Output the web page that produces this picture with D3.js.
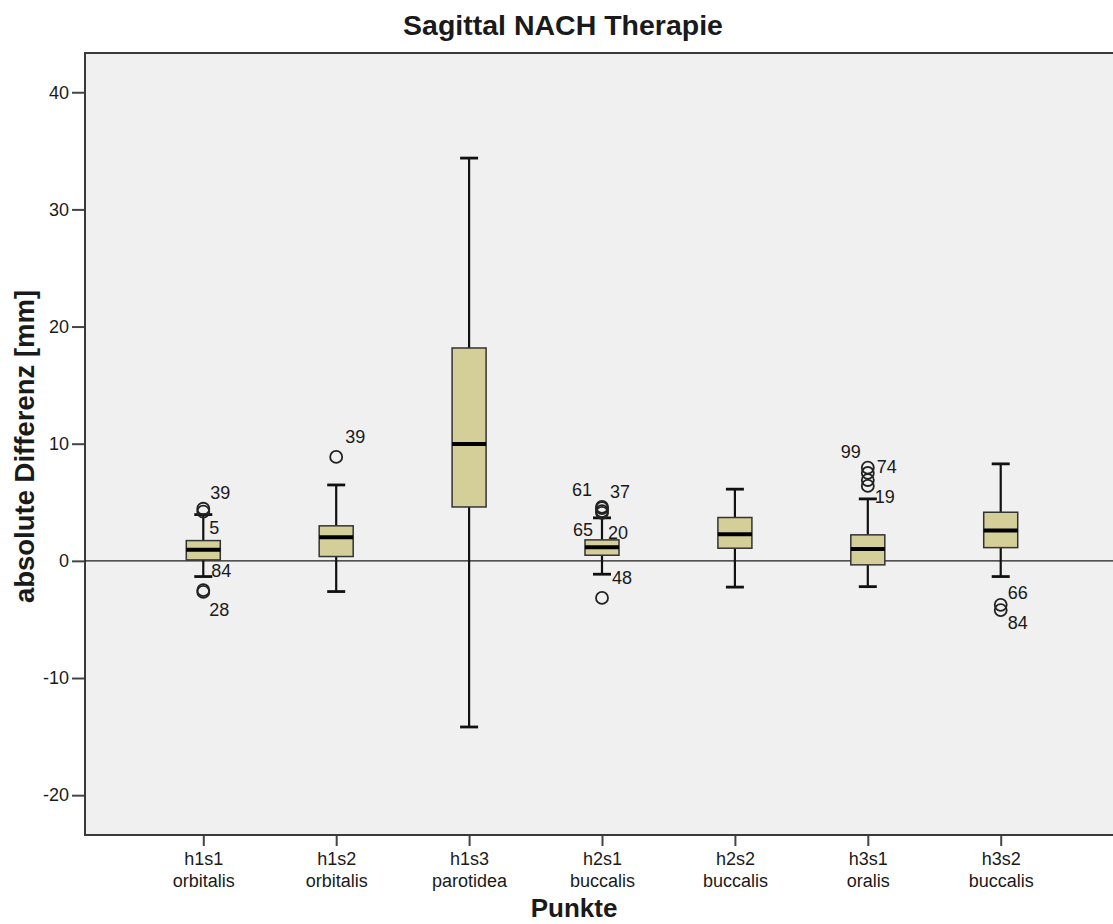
<!DOCTYPE html>
<html>
<head>
<meta charset="utf-8">
<script src="https://cdn.jsdelivr.net/npm/d3@7"></script>
<style>
  html, body { margin: 0; padding: 0; background: #ffffff; }
  svg { display: block; }
  text { font-family: "Liberation Sans", Arial, sans-serif; fill: #1a1a1a; }
</style>
</head>
<body>
<svg id="chart" width="1113" height="924"></svg>
<script>
// Measurement points (two-line tick labels)
const categories = ["h1s1", "h1s2", "h1s3", "h2s1", "h2s2", "h3s1", "h3s2"];
const regions = ["orbitalis", "orbitalis", "parotidea", "buccalis", "buccalis", "oralis", "buccalis"];

// Box plot statistics [mm]
const whiskerLow  = [-1.34, -2.62, -14.18, -1.14, -2.24, -2.20, -1.34];
const q1          = [ 0.08,  0.37,   4.60,  0.48,  1.08, -0.34,  1.13];
const median      = [ 0.94,  2.02,   9.98,  1.17,  2.28,  1.02,  2.59];
const q3          = [ 1.73,  2.99,  18.17,  1.79,  3.70,  2.22,  4.15];
const whiskerHigh = [ 3.95,  6.48,  34.38,  3.67,  6.12,  5.29,  8.28];

// Outliers: category, case number, value
const outlierCat   = ["h1s1", "h1s1", "h1s1", "h1s1", "h1s2", "h2s1", "h2s1", "h2s1", "h2s1", "h2s1", "h3s1", "h3s1", "h3s1", "h3s1", "h3s2", "h3s2"];
const outlierId    = ["39",   "5",    "84",   "28",   "39",   "61",   "37",   "65",   "20",   "48",   "99",   "74",   "",     "19",   "66",   "84"];
const outlierValue = [ 4.45,   4.20,  -2.50,  -2.65,   8.87,   4.60,   4.50,   4.25,   4.10,  -3.16,   7.95,   7.50,   6.90,   6.40,  -3.75,  -4.20];

const yTicks = [40, 30, 20, 10, 0, -10, -20];

// Where each case label sits around its circle
const labelPlacement = {
  "h1s1-39": { dx: 7,  dy: -16, anchor: "start" },
  "h1s1-5":  { dx: 6,  dy: 16,  anchor: "start" },
  "h1s1-84": { dx: 8,  dy: -19, anchor: "start" },
  "h1s1-28": { dx: 6,  dy: 18,  anchor: "start" },
  "h1s2-39": { dx: 9,  dy: -20, anchor: "start" },
  "h2s1-61": { dx: -10, dy: -17, anchor: "end" },
  "h2s1-37": { dx: 8,  dy: -16, anchor: "start" },
  "h2s1-65": { dx: -9, dy: 19,  anchor: "end" },
  "h2s1-20": { dx: 6,  dy: 20,  anchor: "start" },
  "h2s1-48": { dx: 10, dy: -20, anchor: "start" },
  "h3s1-99": { dx: -7, dy: -16, anchor: "end" },
  "h3s1-74": { dx: 9,  dy: -6,  anchor: "start" },
  "h3s1-19": { dx: 7,  dy: 11,  anchor: "start" },
  "h3s2-66": { dx: 7,  dy: -12, anchor: "start" },
  "h3s2-84": { dx: 7,  dy: 13,  anchor: "start" }
};

const svg = d3.select("#chart");
const plot = { left: 85, top: 53, right: 1118, bottom: 835 };

const x = d3.scalePoint()
  .domain(categories)
  .range([plot.left, 1119])
  .padding(0.89);

const y = d3.scaleLinear()
  .domain([-23.4, 43.35])
  .range([plot.bottom, plot.top]);

// Plot background and frame
svg.append("rect")
  .attr("x", plot.left).attr("y", plot.top)
  .attr("width", plot.right - plot.left).attr("height", plot.bottom - plot.top)
  .attr("fill", "#f0f0f0")
  .attr("stroke", "#3a3a3a").attr("stroke-width", 2);

// Reference line at zero
svg.append("line")
  .attr("x1", plot.left).attr("x2", plot.right)
  .attr("y1", y(0)).attr("y2", y(0))
  .attr("stroke", "#1e1e1e").attr("stroke-width", 1.4);

// Y axis
const yAxis = d3.axisLeft(y).tickValues(yTicks).tickSize(12).tickPadding(3)
  .tickSizeOuter(0).tickFormat(d => String(d));
const gy = svg.append("g").attr("transform", `translate(${plot.left - 1},0)`).call(yAxis);
gy.select(".domain").remove();
gy.selectAll(".tick line").attr("stroke", "#444").attr("stroke-width", 2);
gy.selectAll(".tick text")
  .attr("font-family", "Liberation Sans, Arial, sans-serif")
  .attr("font-size", 18).attr("fill", "#222");

// X axis with two-line labels
const xAxis = d3.axisBottom(x).tickSize(10).tickFormat("").tickSizeOuter(0);
const gx = svg.append("g").attr("transform", `translate(0,${plot.bottom + 1})`).call(xAxis);
gx.select(".domain").remove();
gx.selectAll(".tick line").attr("stroke", "#444").attr("stroke-width", 2);
gx.selectAll(".tick").each(function(d, i) {
  const t = d3.select(this).append("text")
    .attr("text-anchor", "middle")
    .attr("font-family", "Liberation Sans, Arial, sans-serif")
    .attr("font-size", 18).attr("fill", "#222");
  t.append("tspan").attr("x", 0).attr("y", 29).text(d);
  t.append("tspan").attr("x", 0).attr("y", 51).text(regions[i]);
});

// Box plots
const boxW = 34, capW = 18;
const boxes = svg.append("g");
categories.forEach((c, i) => {
  const cx = x(c);
  const g = boxes.append("g");
  // whiskers
  g.append("line").attr("x1", cx).attr("x2", cx)
    .attr("y1", y(q3[i])).attr("y2", y(whiskerHigh[i]))
    .attr("stroke", "#111").attr("stroke-width", 2.2);
  g.append("line").attr("x1", cx).attr("x2", cx)
    .attr("y1", y(q1[i])).attr("y2", y(whiskerLow[i]))
    .attr("stroke", "#111").attr("stroke-width", 2.2);
  // caps
  [whiskerHigh[i], whiskerLow[i]].forEach(v => {
    g.append("line").attr("x1", cx - capW / 2).attr("x2", cx + capW / 2)
      .attr("y1", y(v)).attr("y2", y(v))
      .attr("stroke", "#111").attr("stroke-width", 2.8);
  });
  // box
  g.append("rect")
    .attr("x", cx - boxW / 2).attr("width", boxW)
    .attr("y", y(q3[i])).attr("height", y(q1[i]) - y(q3[i]))
    .attr("fill", "#d4cf98").attr("stroke", "#333").attr("stroke-width", 1.5);
  // median
  g.append("line").attr("x1", cx - boxW / 2).attr("x2", cx + boxW / 2)
    .attr("y1", y(median[i])).attr("y2", y(median[i]))
    .attr("stroke", "#000").attr("stroke-width", 4);
});

// Outliers with case labels
const outliers = outlierCat.map((c, i) => ({ cat: c, id: outlierId[i], value: outlierValue[i] }));
const og = svg.append("g");
og.selectAll("circle").data(outliers).join("circle")
  .attr("cx", d => x(d.cat)).attr("cy", d => y(d.value)).attr("r", 6)
  .attr("fill", "none").attr("stroke", "#222").attr("stroke-width", 1.8);
og.selectAll("text").data(outliers.filter(d => d.id !== "")).join("text")
  .each(function(d) {
    const p = labelPlacement[d.cat + "-" + d.id];
    d3.select(this)
      .attr("x", x(d.cat) + p.dx).attr("y", y(d.value) + p.dy)
      .attr("text-anchor", p.anchor)
      .attr("dominant-baseline", "central");
  })
  .attr("font-size", 18).attr("fill", "#222")
  .text(d => d.id);

// Titles
svg.append("text")
  .attr("x", 563).attr("y", 35)
  .attr("text-anchor", "middle")
  .attr("font-size", 28.5).attr("font-weight", "bold")
  .text("Sagittal NACH Therapie");

svg.append("text")
  .attr("transform", `translate(34,${(290 + 603) / 2}) rotate(-90)`)
  .attr("text-anchor", "middle")
  .attr("font-size", 27.5).attr("font-weight", "bold")
  .text("absolute Differenz [mm]");

svg.append("text")
  .attr("x", 574).attr("y", 917)
  .attr("text-anchor", "middle")
  .attr("font-size", 26).attr("font-weight", "bold")
  .text("Punkte");
</script>
</body>
</html>
